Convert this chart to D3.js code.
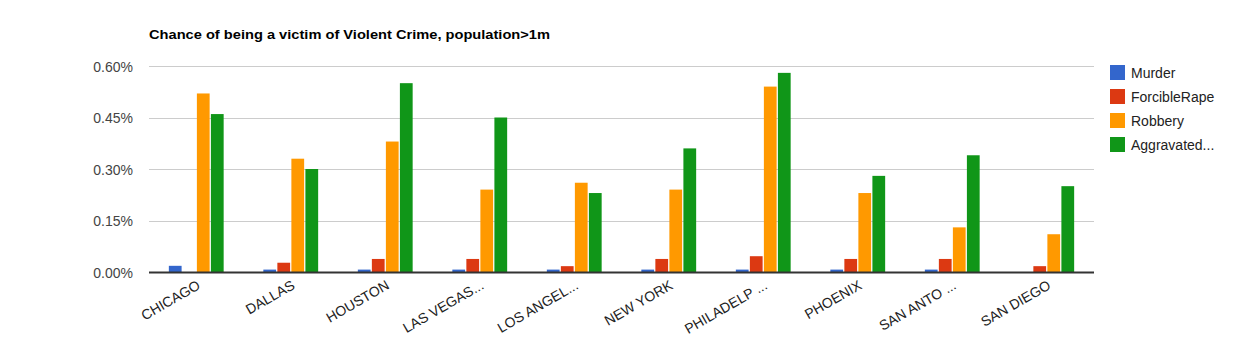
<!DOCTYPE html>
<html>
<head>
<meta charset="utf-8">
<script src="https://cdnjs.cloudflare.com/ajax/libs/d3/7.8.5/d3.min.js"></script>
<style>
  html, body { margin: 0; padding: 0; background: #fff; }
  svg { display: block; font-family: Arial, "Liberation Sans", sans-serif; }
</style>
</head>
<body>
<svg id="chart" width="1243" height="337"></svg>
<script>
const categories = ["CHICAGO", "DALLAS", "HOUSTON", "LAS VEGAS...", "LOS ANGEL...", "NEW YORK", "PHILADELP ...", "PHOENIX", "SAN ANTO ...", "SAN DIEGO"];
const seriesNames = ["Murder", "ForcibleRape", "Robbery", "Aggravated..."];
const murder       = [0.00018, 0.00007, 0.00007, 0.00007, 0.00007, 0.00007, 0.00007, 0.00007, 0.00007, 0];
const forcibleRape = [0, 0.00027, 0.00038, 0.00038, 0.00017, 0.00038, 0.00046, 0.00038, 0.00038, 0.00017];
const robbery      = [0.0052, 0.0033, 0.0038, 0.0024, 0.0026, 0.0024, 0.0054, 0.0023, 0.0013, 0.0011];
const aggravated   = [0.0046, 0.0030, 0.0055, 0.0045, 0.0023, 0.0036, 0.0058, 0.0028, 0.0034, 0.0025];
const yTicks = [0, 0.0015, 0.003, 0.0045, 0.006];
const colors = ["#3366cc", "#dc3912", "#ff9900", "#109618"];
const title = "Chance of being a victim of Violent Crime, population>1m";

const seriesValues = [murder, forcibleRape, robbery, aggravated];
const svg = d3.select("#chart");

const plotLeft = 149, plotRight = 1094, plotTop = 66, plotBottom = 272;

const x0 = d3.scaleBand().domain(categories).range([plotLeft, plotRight]).paddingInner(0.42).paddingOuter(0.21);
const x1 = d3.scaleBand().domain(seriesNames).range([0, x0.bandwidth()]).paddingInner(0.09);
const y = d3.scaleLinear().domain([0, 0.006]).range([plotBottom, plotTop]);
const fmt = d3.format(".2%");

// Title
svg.append("text").attr("x", plotLeft).attr("y", 38.5)
  .attr("font-size", 13).attr("font-weight", "bold").attr("fill", "#000")
  .attr("textLength", 401).attr("lengthAdjust", "spacingAndGlyphs")
  .text(title);

// Gridlines
svg.append("g").selectAll("line").data(yTicks.slice(1)).join("line")
  .attr("x1", plotLeft).attr("x2", plotRight)
  .attr("y1", d => Math.round(y(d)) + 0.5).attr("y2", d => Math.round(y(d)) + 0.5)
  .attr("stroke", "#cccccc").attr("stroke-width", 1);

// Y axis labels
const yAxis = d3.axisLeft(y).tickValues(yTicks).tickFormat(fmt).tickSize(0).tickPadding(0);
const yg = svg.append("g").attr("transform", `translate(${plotLeft - 16},0)`).call(yAxis);
yg.select(".domain").remove();
yg.selectAll("text").attr("font-size", 14).attr("fill", "#444").attr("font-family", "Arial, 'Liberation Sans', sans-serif").attr("dy", "0.36em");

// Bars
const groups = svg.append("g").selectAll("g").data(categories).join("g")
  .attr("transform", d => `translate(${x0(d)},0)`);
groups.selectAll("rect").data((c, i) => seriesNames.map((s, j) => ({ s, v: seriesValues[j][i], j })))
  .join("rect")
  .attr("x", d => x1(d.s))
  .attr("width", x1.bandwidth())
  .attr("y", d => y(d.v))
  .attr("height", d => plotBottom - y(d.v))
  .attr("fill", d => colors[d.j]);

// Baseline
svg.append("line").attr("x1", plotLeft).attr("x2", plotRight).attr("y1", plotBottom + 0.5).attr("y2", plotBottom + 0.5)
  .attr("stroke", "#333").attr("stroke-width", 2);

// X labels
const xAxis = d3.axisBottom(x0).tickSize(0).tickPadding(0);
const xg = svg.append("g").attr("transform", `translate(0,${plotBottom})`).call(xAxis);
xg.select(".domain").remove();
xg.selectAll("text")
  .attr("font-size", 14).attr("fill", "#222").attr("font-family", "Arial, 'Liberation Sans', sans-serif")
  .attr("text-anchor", "end")
  .attr("dy", null).attr("y", 0)
  .attr("transform", "translate(5,16) rotate(-30)");

// Legend
const legend = svg.append("g").attr("transform", "translate(1110,65)");
const items = legend.selectAll("g").data(seriesNames).join("g")
  .attr("transform", (d, i) => `translate(0,${i * 24})`);
items.append("rect").attr("width", 15).attr("height", 15).attr("fill", (d, i) => colors[i]);
items.append("text").attr("x", 21).attr("y", 12.5).attr("font-size", 14).attr("fill", "#222").text(d => d);
</script>
</body>
</html>
